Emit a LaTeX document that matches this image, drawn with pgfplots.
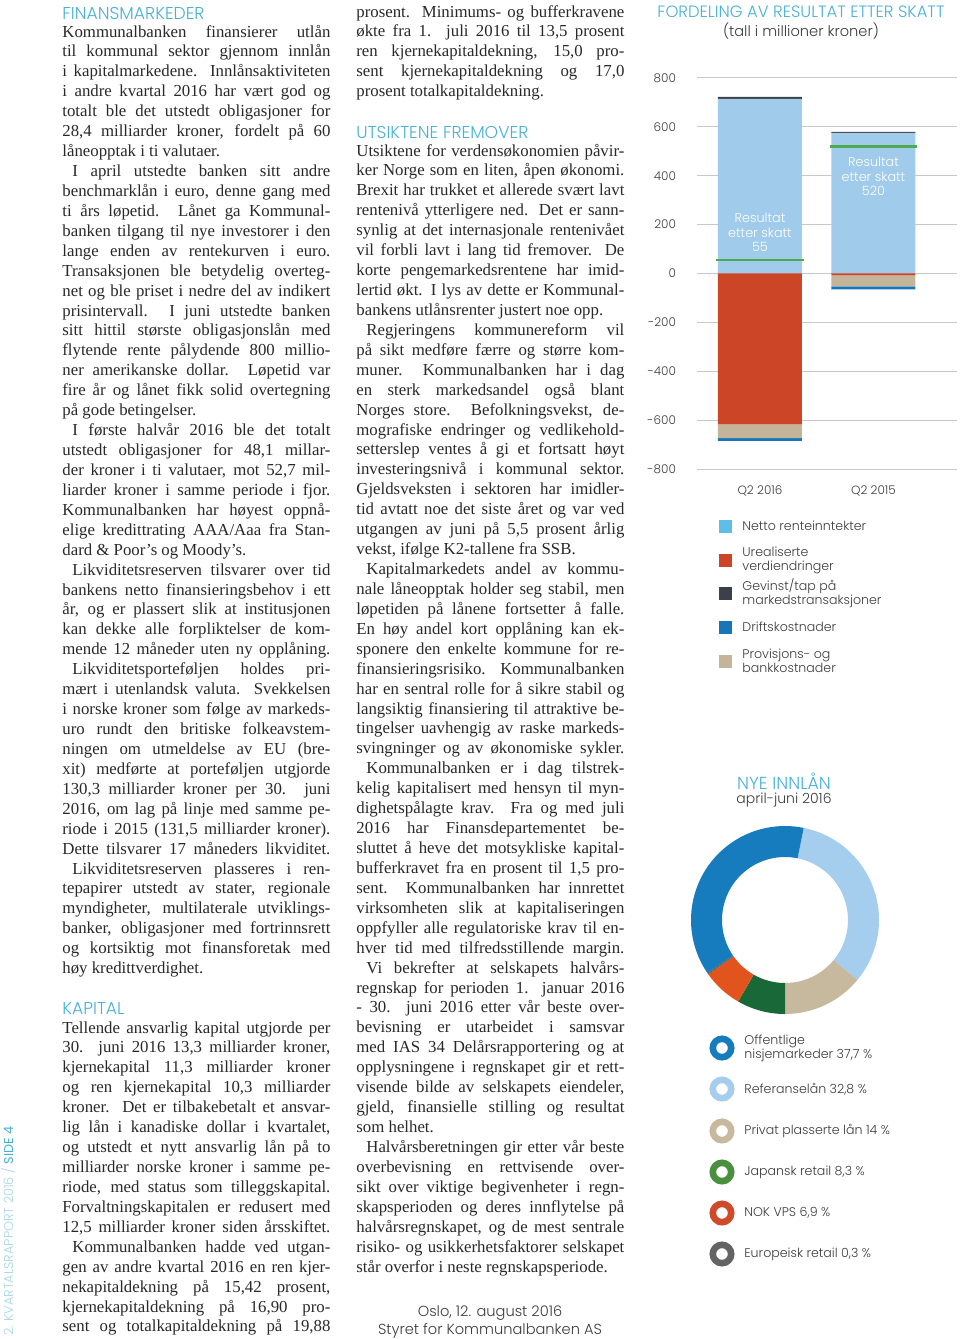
\documentclass[border=0pt]{standalone}
\usepackage{pgfplots}
\pgfplotsset{compat=1.18}
\usepackage{pgfplotstable}
\usepackage{fontspec}
\setmainfont{Liberation Serif}
\newfontfamily\gf{Poppins Light}[BoldFont={Poppins}]

\definecolor{hcyan}{RGB}{72,176,214}
\definecolor{sidecyan}{RGB}{165,214,233}
\definecolor{bodytxt}{RGB}{40,40,40}
\definecolor{lblgray}{RGB}{60,60,60}
\definecolor{gridgray}{RGB}{200,200,200}
\definecolor{barblue}{RGB}{160,203,235}
\definecolor{legblue}{RGB}{95,190,232}
\definecolor{urred}{RGB}{204,69,39}
\definecolor{gevgray}{RGB}{60,64,72}
\definecolor{driftblue}{RGB}{25,118,182}
\definecolor{provtan}{RGB}{196,181,154}
\definecolor{resgreen}{RGB}{76,170,80}
\definecolor{offblue}{RGB}{22,124,190}
\definecolor{refblue}{RGB}{164,205,238}
\definecolor{dtan}{RGB}{199,185,158}
\definecolor{dgreen}{RGB}{24,104,56}
\definecolor{dorange}{RGB}{226,84,30}
\definecolor{dgray}{RGB}{100,100,100}
\definecolor{lgreen}{RGB}{74,143,62}
\definecolor{lred}{RGB}{207,74,43}

% one justified line / last line of a paragraph
\newcommand\Jl[1]{\hbox to\hsize{#1}}
\newcommand\El[1]{\hbox to\hsize{#1\hfil}}
\newcommand\ind{\hskip5pt\relax}
\newcommand\bodyfont{\fontsize{8.4}{9.965}\selectfont}
\newcommand\hfont{\gf\fontsize{8.6}{10}\selectfont}
\newcommand\colbox[1]{\vtop{\hsize=134pt\baselineskip=9.965pt\lineskiplimit=-\maxdimen\lineskip=0pt #1}}
\newcommand\smallgf{\gf\fontsize{6.3}{7}\selectfont}
\newcommand\tickfont{\gf\fontsize{6}{7}\selectfont}
\newcommand\legfont{\gf\fontsize{6.3}{7}\selectfont}

\pgfplotstableread{
share col
32.8 refblue
14.0 dtan
8.3 dgreen
6.9 dorange
0.3 dgray
37.7 offblue
}\donutdata

% bar axis: bottom-left corner at pixel (697,469) of the page
\pgfplotsset{barax/.style={at={(348.5pt,-234.5pt)}, anchor=south west,
  width=130pt, height=195.5pt, scale only axis,
  xmin=-0.555, xmax=1.736, ymin=-800, ymax=800,
  axis line style={draw=none}, tick style={draw=none}, major tick length=0pt}}

\begin{document}
\begin{tikzpicture}
\begin{scope}[x=0.5pt,y=-0.5pt]
\useasboundingbox (0,0) rectangle (960,1339);

% ---------- column 1
\node[anchor=base west, inner sep=0, font=\hfont, text=hcyan] at (62,19) {FINANSMARKEDER};
\node[anchor=base west, inner sep=0, font=\bodyfont, text=bodytxt] at (62,37) {\colbox{%
\Jl{Kommunalbanken finansierer utlån}
\Jl{til kommunal sektor gjennom innlån}
\Jl{i kapitalmarkedene. Innlånsaktiviteten}
\Jl{i andre kvartal 2016 har vært god og}
\Jl{totalt ble det utstedt obligasjoner for}
\Jl{28,4 milliarder kroner, fordelt på 60}
\El{låneopptak i ti valutaer.}
\Jl{\ind I april utstedte banken sitt andre}
\Jl{benchmarklån i euro, denne gang med}
\Jl{ti års løpetid. Lånet ga Kommunal-}
\Jl{banken tilgang til nye investorer i den}
\Jl{lange enden av rentekurven i euro.}
\Jl{Transaksjonen ble betydelig overteg-}
\Jl{net og ble priset i nedre del av indikert}
\Jl{prisintervall. I juni utstedte banken}
\Jl{sitt hittil største obligasjonslån med}
\Jl{flytende rente pålydende 800 millio-}
\Jl{ner amerikanske dollar. Løpetid var}
\Jl{fire år og lånet fikk solid overtegning}
\El{på gode betingelser.}
\Jl{\ind I første halvår 2016 ble det totalt}
\Jl{utstedt obligasjoner for 48,1 millar-}
\Jl{der kroner i ti valutaer, mot 52,7 mil-}
\Jl{liarder kroner i samme periode i fjor.}
\Jl{Kommunalbanken har høyest oppnå-}
\Jl{elige kredittrating AAA/Aaa fra Stan-}
\El{dard \& Poor’s og Moody’s.}
\Jl{\ind Likviditetsreserven tilsvarer over tid}
\Jl{bankens netto finansieringsbehov i ett}
\Jl{år, og er plassert slik at institusjonen}
\Jl{kan dekke alle forpliktelser de kom-}
\Jl{mende 12 måneder uten ny opplåning.}
\Jl{\ind Likviditetsporteføljen holdes pri-}
\Jl{mært i utenlandsk valuta. Svekkelsen}
\Jl{i norske kroner som følge av markeds-}
\Jl{uro rundt den britiske folkeavstem-}
\Jl{ningen om utmeldelse av EU (bre-}
\Jl{xit) medførte at porteføljen utgjorde}
\Jl{130,3 milliarder kroner per 30. juni}
\Jl{2016, om lag på linje med samme pe-}
\Jl{riode i 2015 (131,5 milliarder kroner).}
\Jl{Dette tilsvarer 17 måneders likviditet.}
\Jl{\ind Likviditetsreserven plasseres i ren-}
\Jl{tepapirer utstedt av stater, regionale}
\Jl{myndigheter, multilaterale utviklings-}
\Jl{banker, obligasjoner med fortrinnsrett}
\Jl{og kortsiktig mot finansforetak med}
\El{høy kredittverdighet.}}};

\node[anchor=base west, inner sep=0, font=\hfont, text=hcyan] at (62,1014) {KAPITAL};
\node[anchor=base west, inner sep=0, font=\bodyfont, text=bodytxt] at (62,1033) {\colbox{%
\Jl{Tellende ansvarlig kapital utgjorde per}
\Jl{30. juni 2016 13,3 milliarder kroner,}
\Jl{kjernekapital 11,3 milliarder kroner}
\Jl{og ren kjernekapital 10,3 milliarder}
\Jl{kroner. Det er tilbakebetalt et ansvar-}
\Jl{lig lån i kanadiske dollar i kvartalet,}
\Jl{og utstedt et nytt ansvarlig lån på to}
\Jl{milliarder norske kroner i samme pe-}
\Jl{riode, med status som tilleggskapital.}
\Jl{Forvaltningskapitalen er redusert med}
\Jl{12,5 milliarder kroner siden årsskiftet.}
\Jl{\ind Kommunalbanken hadde ved utgan-}
\Jl{gen av andre kvartal 2016 en ren kjer-}
\Jl{nekapitaldekning på 15,42 prosent,}
\Jl{kjernekapitaldekning på 16,90 pro-}
\Jl{sent og totalkapitaldekning på 19,88}}};

% ---------- column 2
\node[anchor=base west, inner sep=0, font=\bodyfont, text=bodytxt] at (356,17) {\colbox{%
\Jl{prosent. Minimums- og bufferkravene}
\Jl{økte fra 1. juli 2016 til 13,5 prosent}
\Jl{ren kjernekapitaldekning, 15,0 pro-}
\Jl{sent kjernekapitaldekning og 17,0}
\El{prosent totalkapitaldekning.}}};

\node[anchor=base west, inner sep=0, font=\hfont, text=hcyan] at (356,138) {UTSIKTENE FREMOVER};
\node[anchor=base west, inner sep=0, font=\bodyfont, text=bodytxt] at (356,156) {\colbox{%
\Jl{Utsiktene for verdensøkonomien påvir-}
\Jl{ker Norge som en liten, åpen økonomi.}
\Jl{Brexit har trukket et allerede svært lavt}
\Jl{rentenivå ytterligere ned. Det er sann-}
\Jl{synlig at det internasjonale rentenivået}
\Jl{vil forbli lavt i lang tid fremover. De}
\Jl{korte pengemarkedsrentene har imid-}
\Jl{lertid økt. I lys av dette er Kommunal-}
\El{bankens utlånsrenter justert noe opp.}
\Jl{\ind Regjeringens kommunereform vil}
\Jl{på sikt medføre færre og større kom-}
\Jl{muner. Kommunalbanken har i dag}
\Jl{en sterk markedsandel også blant}
\Jl{Norges store. Befolkningsvekst, de-}
\Jl{mografiske endringer og vedlikehold-}
\Jl{setterslep ventes å gi et fortsatt høyt}
\Jl{investeringsnivå i kommunal sektor.}
\Jl{Gjeldsveksten i sektoren har imidler-}
\Jl{tid avtatt noe det siste året og var ved}
\Jl{utgangen av juni på 5,5 prosent årlig}
\El{vekst, ifølge K2-tallene fra SSB.}
\Jl{\ind Kapitalmarkedets andel av kommu-}
\Jl{nale låneopptak holder seg stabil, men}
\Jl{løpetiden på lånene fortsetter å falle.}
\Jl{En høy andel kort opplåning kan ek-}
\Jl{sponere den enkelte kommune for re-}
\Jl{finansieringsrisiko. Kommunalbanken}
\Jl{har en sentral rolle for å sikre stabil og}
\Jl{langsiktig finansiering til attraktive be-}
\Jl{tingelser uavhengig av raske markeds-}
\Jl{svingninger og av økonomiske sykler.}
\Jl{\ind Kommunalbanken er i dag tilstrek-}
\Jl{kelig kapitalisert med hensyn til myn-}
\Jl{dighetspålagte krav. Fra og med juli}
\Jl{2016 har Finansdepartementet be-}
\Jl{sluttet å heve det motsykliske kapital-}
\Jl{bufferkravet fra en prosent til 1,5 pro-}
\Jl{sent. Kommunalbanken har innrettet}
\Jl{virksomheten slik at kapitaliseringen}
\Jl{oppfyller alle regulatoriske krav til en-}
\Jl{hver tid med tilfredsstillende margin.}
\Jl{\ind Vi bekrefter at selskapets halvårs-}
\Jl{regnskap for perioden 1. januar 2016}
\Jl{- 30. juni 2016 etter vår beste over-}
\Jl{bevisning er utarbeidet i samsvar}
\Jl{med IAS 34 Delårsrapportering og at}
\Jl{opplysningene i regnskapet gir et rett-}
\Jl{visende bilde av selskapets eiendeler,}
\Jl{gjeld, finansielle stilling og resultat}
\El{som helhet.}
\Jl{\ind Halvårsberetningen gir etter vår beste}
\Jl{overbevisning en rettvisende over-}
\Jl{sikt over viktige begivenheter i regn-}
\Jl{skapsperioden og deres innflytelse på}
\Jl{halvårsregnskapet, og de mest sentrale}
\Jl{risiko- og usikkerhetsfaktorer selskapet}
\El{står overfor i neste regnskapsperiode.}}};

\node[font=\gf\fontsize{7.3}{8}\selectfont, text=lblgray] at (490,1313) {Oslo, 12. august 2016};
\node[font=\gf\fontsize{7.3}{8}\selectfont, text=lblgray] at (490,1331) {Styret for Kommunalbanken AS};

% side strip
\node[rotate=90, anchor=base west, inner sep=0, font=\gf\fontsize{6.4}{7}\selectfont, text=sidecyan] at (13,1336)
  {2. KVARTALSRAPPORT 2016 / \textcolor{hcyan}{\bfseries SIDE 4}};

% ---------- titles and legends of the charts
\node[font=\gf\fontsize{8.2}{9}\selectfont, text=hcyan] at (801,12) {FORDELING AV RESULTAT ETTER SKATT};
\node[font=\gf\fontsize{7.3}{8}\selectfont, text=lblgray] at (801,31) {(tall i millioner kroner)};

\foreach \yy/\cc/\lab in {526/legblue/{Netto renteinntekter},
    560/urred/{Urealiserte\\verdiendringer},
    593/gevgray/{Gevinst/tap på\\markedstransaksjoner},
    627/driftblue/{Driftskostnader},
    661/provtan/{Provisjons- og\\bankkostnader}}{
  \fill[\cc] (719,{\yy-6.5}) rectangle (732,{\yy+6.5});
  \node[anchor=west, inner sep=0, align=left, font=\smallgf, text=lblgray] at (742,\yy) {\lab};
}

\node[font=\gf\fontsize{8.7}{9}\selectfont, text=hcyan] at (784,781) {NYE INNLÅN};
\node[font=\gf\fontsize{7}{9}\selectfont, text=lblgray] at (784,800) {april-juni 2016};

\foreach \yy/\cc/\lab in {1048/offblue/{Offentlige\\nisjemarkeder 37,7 \%},
    1089/refblue/{Referanselån 32,8 \%},
    1131/dtan/{Privat plasserte lån 14 \%},
    1172/lgreen/{Japansk retail 8,3 \%},
    1213/lred/{NOK VPS 6,9 \%},
    1254/dgray/{Europeisk retail 0,3 \%}}{
  \draw[\cc, line width=3.3pt] (722,\yy) circle[radius=4.6pt];
  \node[anchor=west, inner sep=0, align=left, font=\legfont, text=lblgray] at (744,\yy) {\lab};
}
\end{scope}

% ---------- bar chart
% positive parts
\begin{axis}[barax, ybar stacked, bar width=42pt,
  xtick={0,1}, xticklabels={Q2 2016,Q2 2015},
  ytick={-800,-600,...,800},
  ymajorgrids, grid style={gridgray, line width=0.5pt},
  /pgf/number format/assume math mode=true,
  yticklabel style={font=\tickfont, text=lblgray, xshift=-7pt},
  xticklabel style={font=\tickfont, text=lblgray, yshift=-5pt}]
\addplot[fill=barblue, draw=none] coordinates {(0,715) (1,575)};
\addplot[fill=gevgray, draw=none] coordinates {(0,8) (1,5)};
\end{axis}
% negative parts
\begin{axis}[barax, ybar stacked, bar width=42pt, xtick=\empty, ytick=\empty]
\addplot[fill=urred, draw=none] coordinates {(0,-616) (1,-8)};
\addplot[fill=provtan, draw=none] coordinates {(0,-58) (1,-45)};
\addplot[fill=driftblue, draw=none] coordinates {(0,-11) (1,-12)};
\end{axis}
% result after tax
\begin{axis}[barax, xtick=\empty, ytick=\empty]
\addplot[resgreen, line width=1.4pt] coordinates {(-0.385,55) (0.385,55)};
\addplot[resgreen, line width=1.4pt] coordinates {(0.615,520) (1.385,520)};
\node[font=\gf\fontsize{6.4}{7.25}\selectfont, text=white, align=center] at (axis cs:0,167) {Resultat\\etter skatt\\55};
\node[font=\gf\fontsize{6.4}{7.25}\selectfont, text=white, align=center] at (axis cs:1,396) {Resultat\\etter skatt\\520};
\end{axis}

% ---------- donut, centre at pixel (785,920)
\begin{axis}[at={(392.5pt,-460pt)}, anchor=center, width=94pt, height=94pt, scale only axis,
  hide axis, xmin=-1, xmax=1, ymin=-1, ymax=1]
\xdef\angA{78.5}
\pgfplotsinvokeforeach{0,...,5}{
  \pgfplotstablegetelem{#1}{share}\of\donutdata
  \pgfmathsetmacro\angB{\angA-3.6*\pgfplotsretval}
  \pgfplotstablegetelem{#1}{col}\of\donutdata
  \edef\temp{\noexpand\fill[\pgfplotsretval] ([shift={(\angA:47pt)}]axis cs:0,0)
    arc[start angle=\angA, end angle=\angB, radius=47pt]
    -- ([shift={(\angB:31.5pt)}]axis cs:0,0)
    arc[start angle=\angB, end angle=\angA, radius=31.5pt] -- cycle;}
  \temp
  \xdef\angA{\angB}
}
\end{axis}
\end{tikzpicture}
\end{document}
